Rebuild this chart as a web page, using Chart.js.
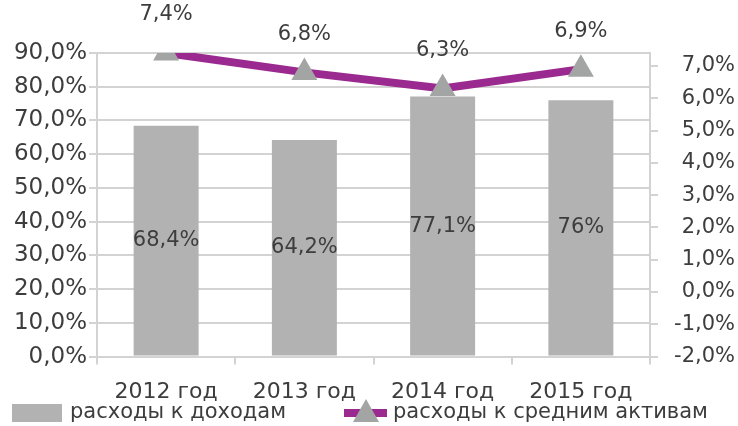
<!DOCTYPE html>
<html>
<head>
<meta charset="utf-8">
<script src="https://cdn.jsdelivr.net/npm/chart.js@4"></script>
<style>
  html, body { margin: 0; padding: 0; background: #fff; }
  #wrap { width: 738px; height: 426px; }
</style>
</head>
<body>
<div id="wrap"><canvas id="grafico"></canvas></div>
<script>
// datos
const categorias = ["2012 год", "2013 год", "2014 год", "2015 год"];
const gastosIngresos = [68.4, 64.2, 77.1, 76];     // barras, eje izquierdo
const gastosActivos  = [7.4, 6.8, 6.3, 6.9];        // línea, eje derecho
const etiquetasBarras = ["68,4%", "64,2%", "77,1%", "76%"];
const etiquetasLinea  = ["7,4%", "6,8%", "6,3%", "6,9%"];
const ticksDerecha = [-2, -1, 0, 1, 2, 3, 4, 5, 6, 7];
const nombres = ["расходы к доходам", "расходы к средним активам"];

const FUENTE = "'DejaVu Sans', sans-serif";
const GRIS_TXT = "#3d3d3d";
const GRIS_BARRA = "#b1b2b1";
const MORADO = "#9a2a8f";
const GRIS_REJILLA = "#d3d3d3";

const fmt = v => v.toFixed(1).replace(".", ",") + "%";

// etiquetas de valores + leyenda dibujada a mano
const etiquetas = {
  id: "etiquetas",
  afterDatasetsDraw(chart) {
    const ctx = chart.ctx;
    ctx.save();
    ctx.fillStyle = GRIS_TXT;
    ctx.font = `21px ${FUENTE}`;
    ctx.textAlign = "center";
    ctx.textBaseline = "middle";

    // dataset 1 = barras, dataset 0 = línea
    chart.getDatasetMeta(1).data.forEach((bar, i) => {
      const p = bar.getProps(["x", "y", "base"], true);
      ctx.fillText(etiquetasBarras[i], p.x, (p.y + p.base) / 2);
    });
    chart.getDatasetMeta(0).data.forEach((pt, i) => {
      ctx.fillText(etiquetasLinea[i], pt.x, pt.y - 38);
    });

    // leyenda
    const yl = 413;
    ctx.fillStyle = GRIS_BARRA;
    ctx.fillRect(12, yl - 9, 50, 18);
    ctx.strokeStyle = MORADO;
    ctx.lineWidth = 8;
    ctx.beginPath();
    ctx.moveTo(344, yl);
    ctx.lineTo(387, yl);
    ctx.stroke();
    ctx.fillStyle = "#a3a4a4";
    ctx.beginPath();
    ctx.moveTo(366, yl - 14);
    ctx.lineTo(379, yl + 9);
    ctx.lineTo(353, yl + 9);
    ctx.closePath();
    ctx.fill();

    ctx.fillStyle = GRIS_TXT;
    ctx.font = `21px ${FUENTE}`;
    ctx.textAlign = "left";
    ctx.fillText(nombres[0], 70, yl);
    ctx.fillText(nombres[1], 393, yl);
    ctx.restore();
  }
};

new Chart(document.getElementById("grafico"), {
  data: {
    labels: categorias,
    datasets: [
      {
        type: "line",
        label: nombres[1],
        data: gastosActivos,
        yAxisID: "y2",
        borderColor: MORADO,
        borderWidth: 8,
        pointStyle: "triangle",
        pointRadius: 15,
        pointHoverRadius: 15,
        pointBackgroundColor: "#a3a4a4",
        pointBorderColor: "#a3a4a4",
        pointBorderWidth: 0,
        tension: 0,
        order: 0
      },
      {
        type: "bar",
        label: nombres[0],
        data: gastosIngresos,
        yAxisID: "y",
        backgroundColor: GRIS_BARRA,
        categoryPercentage: 0.94,
        barPercentage: 0.5,
        order: 1
      }
    ]
  },
  options: {
    responsive: true,
    maintainAspectRatio: false,
    animation: false,
    layout: { padding: { top: 53, bottom: 7, left: 0, right: 3 } },
    plugins: {
      legend: { display: false },
      tooltip: { enabled: false }
    },
    scales: {
      x: {
        offset: true,
        grid: { offset: true, drawOnChartArea: false, color: GRIS_REJILLA, lineWidth: 2, tickLength: 8 },
        border: { display: true, color: GRIS_REJILLA, width: 2 },
        ticks: { color: GRIS_TXT, font: { family: FUENTE, size: 22 }, padding: 14, maxRotation: 0 }
      },
      y: {
        position: "left",
        min: 0,
        max: 90,
        grid: { color: GRIS_REJILLA, lineWidth: 2, tickLength: 8 },
        border: { display: true, color: GRIS_REJILLA, width: 2 },
        ticks: { stepSize: 10, color: GRIS_TXT, font: { family: FUENTE, size: 23 }, padding: 2, callback: v => fmt(v) },
        afterFit: s => { s.width = 97; }
      },
      y2: {
        position: "right",
        min: -2,
        max: 7.4,
        grid: { drawOnChartArea: false, color: GRIS_REJILLA, lineWidth: 2, tickLength: 8 },
        border: { display: true, color: GRIS_REJILLA, width: 2 },
        ticks: { color: GRIS_TXT, font: { family: FUENTE, size: 21 }, padding: 18, crossAlign: "far", callback: v => fmt(v) },
        afterBuildTicks: s => { s.ticks = ticksDerecha.map(v => ({ value: v })); },
        afterFit: s => { s.width = 85; }
      }
    }
  },
  plugins: [etiquetas]
});
</script>
</body>
</html>
